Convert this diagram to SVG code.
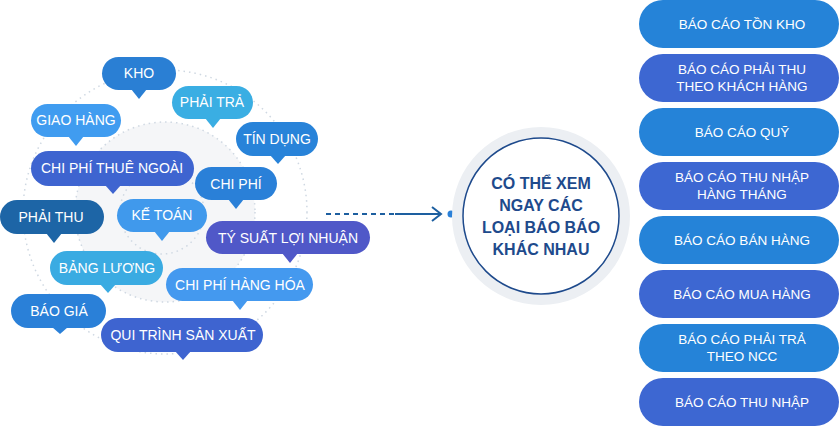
<svg xmlns="http://www.w3.org/2000/svg" width="839" height="426" viewBox="0 0 839 426">
<defs>
<style>
text{font-family:"Liberation Sans",Arial,sans-serif;fill:#fff;text-anchor:middle}
.b text{font-size:14px}
.r text{font-size:13.5px}
.dot{fill:none;stroke:#cfd8e2;stroke-width:1.5;stroke-dasharray:1.5 4}
</style>
<marker id="ah" markerWidth="12" markerHeight="16" refX="10" refY="8" orient="auto" markerUnits="userSpaceOnUse"><path d="M1,1 L10,8 L1,15" fill="none" stroke="#1d5fa0" stroke-width="2"/></marker>
</defs>
<rect width="839" height="426" fill="#fff"/>
<circle cx="165" cy="212" r="142" class="dot"/>
<circle cx="165" cy="212" r="90" fill="#f5f6f8" class="dot" style="fill:#f5f6f8"/>
<circle cx="162" cy="212" r="42" class="dot"/>
<g id="connectors">
<line x1="326" y1="214" x2="395" y2="214" stroke="#1d5fa0" stroke-width="2" stroke-dasharray="5 4"/>
<line x1="395" y1="214" x2="441" y2="214" stroke="#1d5fa0" stroke-width="2" marker-end="url(#ah)"/>
<circle cx="451" cy="214" r="3.5" fill="#2a80d8"/>
</g>
<g class="b">
<g id="kho"><rect x="102" y="57" width="74" height="33" rx="16.5" fill="#2a7fd4"/><path d="M131,89 L139,99 L147,89Z" fill="#2a7fd4"/><text x="139" y="78">KHO</text></g>
<g id="phaitra"><rect x="172" y="86" width="81" height="33" rx="16.5" fill="#3aaee3"/><path d="M205,118 L213,128 L221,118Z" fill="#3aaee3"/><text x="212" y="107">PHẢI TRẢ</text></g>
<g id="giaohang"><rect x="31" y="104" width="90" height="33" rx="16.5" fill="#409cf0"/><path d="M68,136 L76,146 L84,136Z" fill="#409cf0"/><text x="76" y="125">GIAO HÀNG</text></g>
<g id="tindung"><rect x="236" y="122" width="82" height="34" rx="17" fill="#2883d9"/><path d="M270,155 L278,164 L286,155Z" fill="#2883d9"/><text x="277" y="144">TÍN DỤNG</text></g>
<g id="cpthuengoai"><rect x="31" y="151" width="163" height="35" rx="17.5" fill="#3e64d0"/><path d="M105,185 L113,194 L121,185Z" fill="#3e64d0"/><text x="112" y="173">CHI PHÍ THUÊ NGOÀI</text></g>
<g id="chiphi"><rect x="195" y="167" width="82" height="33" rx="16.5" fill="#2a80d8"/><path d="M228,199 L236,209 L244,199Z" fill="#2a80d8"/><text x="236" y="189">CHI PHÍ</text></g>
<g id="phaithu"><rect x="0" y="200" width="104" height="34" rx="17" fill="#1d65a6"/><path d="M46,233 L54,243 L62,233Z" fill="#1d65a6"/><text x="51" y="222">PHẢI THU</text></g>
<g id="ketoan"><rect x="117" y="199" width="90" height="33" rx="16.5" fill="#4099ec"/><path d="M154,231 L162,241 L170,231Z" fill="#4099ec"/><text x="162" y="220">KẾ TOÁN</text></g>
<g id="tysuat"><rect x="206" y="221" width="164" height="33" rx="16.5" fill="#5058c8"/><path d="M282,253 L290,263 L298,253Z" fill="#5058c8"/><text x="288" y="243">TÝ SUẤT LỢI NHUẬN</text></g>
<g id="bangluong"><rect x="50" y="251" width="113" height="34" rx="17" fill="#3aabe2"/><path d="M100,284 L108,293 L116,284Z" fill="#3aabe2"/><text x="107" y="273">BẢNG LƯƠNG</text></g>
<g id="cphanghoa"><rect x="166" y="268" width="147" height="33" rx="16.5" fill="#4499ef"/><path d="M232,300 L240,310 L248,300Z" fill="#4499ef"/><text x="240" y="290">CHI PHÍ HÀNG HÓA</text></g>
<g id="baogia"><rect x="11" y="294" width="95" height="34" rx="17" fill="#2a80d8"/><path d="M52,327 L60,334 L68,327Z" fill="#2a80d8"/><text x="59" y="316">BÁO GIÁ</text></g>
<g id="quitrinh"><rect x="101" y="318" width="162" height="34" rx="17" fill="#3e64d0"/><path d="M175,351 L183,360 L191,351Z" fill="#3e64d0"/><text x="183" y="340">QUI TRÌNH SẢN XUẤT</text></g>
</g>
<g id="center">
<circle cx="541" cy="216" r="89" fill="#eceff3"/>
<circle cx="541" cy="216" r="78" fill="#fff" stroke="#1e4a8c" stroke-width="1.5"/>
<g style="font-weight:bold;font-size:16px">
<text x="541" y="189" style="fill:#1e4a8c">CÓ THỂ XEM</text>
<text x="541" y="211" style="fill:#1e4a8c">NGAY CÁC</text>
<text x="541" y="233" style="fill:#1e4a8c">LOẠI BÁO BÁO</text>
<text x="541" y="255" style="fill:#1e4a8c">KHÁC NHAU</text>
</g>
</g>
<g class="r">
<g id="r1"><rect x="639" y="0" width="200" height="48" rx="24" fill="#2583d8"/><text x="742" y="29">BÁO CÁO TỒN KHO</text></g>
<g id="r2"><rect x="639" y="54" width="200" height="48" rx="24" fill="#3d67d2"/><text x="742" y="74">BÁO CÁO PHẢI THU</text><text x="742" y="91">THEO KHÁCH HÀNG</text></g>
<g id="r3"><rect x="639" y="108" width="200" height="48" rx="24" fill="#2583d8"/><text x="742" y="137">BÁO CÁO QUỸ</text></g>
<g id="r4"><rect x="639" y="162" width="200" height="48" rx="24" fill="#3d67d2"/><text x="742" y="182">BÁO CÁO THU NHẬP</text><text x="742" y="199">HÀNG THÁNG</text></g>
<g id="r5"><rect x="639" y="216" width="200" height="48" rx="24" fill="#2583d8"/><text x="742" y="245">BÁO CÁO BÁN HÀNG</text></g>
<g id="r6"><rect x="639" y="270" width="200" height="48" rx="24" fill="#3d67d2"/><text x="742" y="299">BÁO CÁO MUA HÀNG</text></g>
<g id="r7"><rect x="639" y="324" width="200" height="48" rx="24" fill="#2583d8"/><text x="742" y="344">BÁO CÁO PHẢI TRẢ</text><text x="742" y="361">THEO NCC</text></g>
<g id="r8"><rect x="639" y="378" width="200" height="48" rx="24" fill="#3d67d2"/><text x="742" y="407">BÁO CÁO THU NHẬP</text></g>
</g>
</svg>
